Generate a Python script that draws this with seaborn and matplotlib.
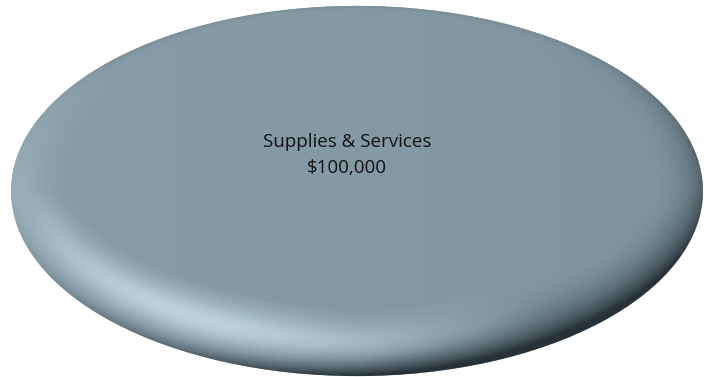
import numpy as np
import matplotlib
matplotlib.use("Agg")
import matplotlib.pyplot as plt
import seaborn as sns

# single-slice 3D-style pie: Supplies & Services

labels = ['Supplies & Services']
values = [100000]

sns.set_style("white")
plt.rcParams['font.family'] = ['Open Sans', 'DejaVu Sans']

base = np.array([132, 153, 164]) / 255
light = np.array([208, 230, 241]) / 255
dark = np.array([40, 50, 56]) / 255

fig = plt.figure(figsize=(7.04, 3.77), dpi=100)
ax = fig.add_axes([0, 0, 1, 1])

wedges, _ = ax.pie(values, colors=[base], startangle=90, radius=1,
                   wedgeprops=dict(linewidth=0))
ax.set_aspect('auto')
ax.set_xlim(-1.032, 1.003)
ax.set_ylim(-1.005, 1.032)
ax.axis('off')

# bevel shading, clipped to the slice
xs = np.linspace(-1.032, 1.003, 900)
ys = np.linspace(-1.005, 1.032, 500)
U, V = np.meshgrid(xs, ys)
r = np.sqrt(U**2 + V**2)
th = np.arctan2(V, U)
down = np.clip(-np.sin(th), 0, 1)
w = 0.06 + 0.10 * np.abs(np.cos(th)) + 0.28 * down**1.3
t = np.clip((r - (1 - w)) / w, 0, 1)
lit = np.clip(np.cos(th - np.deg2rad(222)), 0, 1) ** 1.2
shade = np.clip(np.cos(th - np.deg2rad(328)), 0, 1) ** 1.3
ridge = np.exp(-((t - 0.5) / 0.32) ** 2) * (t > 0)
mix = down ** 0.7
profile = mix * ridge + (1 - mix) * 0.55 * t ** 1.5
delta = 0.85 * lit * profile
delta -= 0.9 * shade * (0.55 + 0.45 * down) * t ** 2
# darker rim at the outer edge of the lower side
delta -= 0.55 * down * t ** 4
delta -= 0.12 * t ** 8
# slight overall tilt on the flat face
delta += -0.05 * U
delta = np.clip(delta, -1, 1)

pos = delta[..., None]
img = np.where(pos > 0, base + pos * (light - base), base + (-pos) * (dark - base))
img = np.clip(img, 0, 1)

im = ax.imshow(img, extent=(xs[0], xs[-1], ys[0], ys[-1]), origin='lower',
               aspect='auto', interpolation='bilinear', zorder=2)
im.set_clip_path(wedges[0])

for lab, val in zip(labels, values):
    ax.text(-0.029, 0.195, f"{lab}\n${val:,.0f}", ha='center', va='center',
            fontsize=13.5, color='#111111', linespacing=1.6, zorder=3)

plt.savefig('out.png', dpi=100)
